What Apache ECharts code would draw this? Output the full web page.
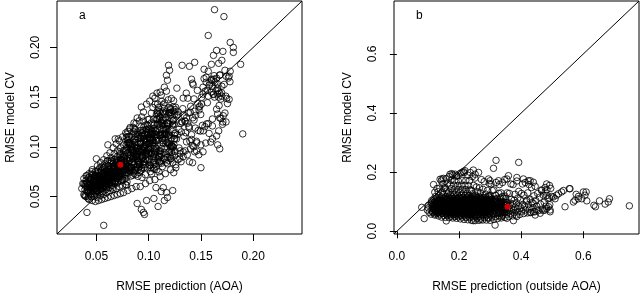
<!DOCTYPE html>
<html><head><meta charset="utf-8">
<script src="https://cdn.jsdelivr.net/npm/echarts@6/dist/echarts.min.js"></script>
<style>html,body{margin:0;padding:0;background:#fff}#c{width:640px;height:298px}</style>
</head><body><div id="c"></div>
<script>
// ---- Panel a: RMSE prediction (AOA) vs RMSE model CV ----
const aLim = [0.0123, 0.2467];
const aTicks = [0.05, 0.10, 0.15, 0.20];
const aRed = [[0.073, 0.082]];
// left, very dense part of the cloud
const aCore = [
[.036,.058],[.038,.052],[.037,.063],[.039,.057],[.038,.068],
[.040,.050],[.041,.060],[.040,.066],[.042,.054],[.041,.071],[.039,.062],[.042,.048],[.041,.064],
[.043,.047],[.044,.057],[.043,.062],[.045,.069],[.044,.052],[.043,.073],[.045,.060],[.044,.065],[.042,.056],[.045,.050],[.044,.067],[.043,.059],
[.046,.046],[.047,.055],[.046,.061],[.048,.066],[.047,.072],[.046,.058],[.048,.050],[.047,.063],[.046,.077],[.048,.060],[.047,.068],[.046,.053],[.048,.057],[.047,.064],
[.049,.045],[.050,.052],[.049,.058],[.051,.063],[.050,.070],[.049,.075],[.051,.056],[.050,.066],[.049,.061],[.051,.081],[.050,.060],[.049,.068],[.051,.049],[.050,.064],[.049,.071],[.051,.058],
[.052,.046],[.053,.054],[.052,.060],[.054,.065],[.053,.071],[.052,.077],[.054,.058],[.053,.068],[.052,.063],[.054,.084],[.053,.062],[.052,.070],[.054,.051],[.053,.066],[.052,.074],[.054,.061],[.053,.057],[.052,.067],
[.055,.047],[.056,.055],[.055,.062],[.057,.067],[.056,.073],[.055,.080],[.057,.060],[.056,.070],[.055,.065],[.057,.087],[.056,.064],[.055,.072],[.057,.052],[.056,.068],[.055,.076],[.057,.063],[.056,.059],[.055,.069],
[.058,.048],[.059,.057],[.058,.064],[.060,.069],[.059,.075],[.058,.083],[.060,.062],[.059,.072],[.058,.067],[.060,.091],[.059,.066],[.058,.074],[.060,.054],[.059,.070],[.058,.078],[.060,.065],[.059,.061],[.058,.071],
[.061,.049],[.062,.059],[.061,.066],[.063,.071],[.062,.077],[.061,.086],[.063,.064],[.062,.074],[.061,.069],[.063,.094],[.062,.068],[.061,.076],[.063,.056],[.062,.072],[.061,.081],[.063,.067],[.062,.063],[.061,.073],
[.064,.050],[.065,.061],[.064,.068],[.066,.073],[.065,.080],[.064,.089],[.066,.066],[.065,.076],[.064,.071],[.066,.099],[.065,.070],[.064,.079],[.066,.057],[.065,.074],[.064,.084],[.066,.069],[.065,.064],[.064,.075],
[.067,.051],[.068,.063],[.067,.070],[.069,.076],[.068,.083],[.067,.093],[.069,.068],[.068,.079],[.067,.073],[.069,.103],[.068,.072],[.067,.081],[.069,.058],[.068,.077],[.067,.087],[.069,.071],[.068,.066],[.067,.078],
[.070,.052],[.071,.065],[.070,.072],[.072,.078],[.071,.086],[.070,.096],[.072,.070],[.071,.082],[.070,.075],[.072,.106],[.071,.074],[.070,.084],[.072,.060],[.071,.079],[.070,.090],[.072,.073],[.071,.068],[.070,.081],
[.073,.053],[.074,.066],[.073,.074],[.075,.080],[.074,.089],[.073,.099],[.075,.072],[.074,.085],[.073,.077],[.075,.110],[.074,.076],[.073,.087],[.075,.061],[.074,.082],[.073,.093],[.075,.075],[.074,.070],[.073,.083],
[.076,.054],[.077,.068],[.076,.076],[.078,.083],[.077,.092],[.076,.102],[.078,.074],[.077,.088],[.076,.080],[.078,.114],[.077,.078],[.076,.090],[.078,.062],[.077,.085],[.076,.096],[.078,.077],[.077,.072],[.076,.086]
];
// main band of the cloud, read along x
const aBand = [
[.0380,.0626],[.0387,.0510],[.0394,.0603],[.0401,.0707],[.0408,.0552],[.0415,.0628],[.0422,.0497],[.0429,.0693],[.0436,.0608],[.0443,.0671],
[.0450,.0551],[.0457,.0750],[.0464,.0598],[.0471,.0651],[.0478,.0530],[.0485,.0706],[.0492,.0649],[.0499,.0562],[.0506,.0756],[.0513,.0630],
[.0520,.0700],[.0527,.0594],[.0534,.0790],[.0541,.0622],[.0548,.0759],[.0555,.0675],[.0562,.0548],[.0569,.0717],[.0576,.0795],[.0583,.0628],
[.0590,.0715],[.0597,.0589],[.0604,.0858],[.0611,.0684],[.0618,.0772],[.0625,.0632],[.0632,.0739],[.0639,.0859],[.0646,.0672],[.0653,.0586],
[.0660,.0833],[.0667,.0792],[.0674,.0650],[.0681,.0875],[.0688,.0755],[.0695,.0848],[.0702,.0638],[.0709,.0815],[.0716,.0745],[.0723,.0950],
[.0730,.0712],[.0737,.0864],[.0744,.0808],[.0751,.0672],[.0758,.0925],[.0765,.0801],[.0772,.0967],[.0779,.0766],[.0786,.0869],[.0793,.0648],
[.0800,.0940],[.0807,.0799],[.0814,.1025],[.0821,.0754],[.0828,.0885],[.0835,.1000],[.0842,.0847],[.0849,.0714],[.0856,.0971],[.0863,.0952],
[.0870,.0762],[.0877,.1104],[.0884,.0904],[.0891,.0823],[.0898,.1082],[.0905,.0955],[.0912,.0804],[.0919,.1047],[.0926,.0875],[.0933,.1141],
[.0940,.0908],[.0947,.0967],[.0954,.0791],[.0961,.1118],[.0968,.1020],[.0975,.0869],[.0982,.1083],[.0989,.0787],[.0996,.1128],[.1003,.0981],
[.1010,.1076],[.1017,.0842],[.1024,.1240],[.1031,.0927],[.1038,.1062],[.1045,.0901],[.1052,.1220],[.1059,.1001],[.1066,.1123],[.1073,.0804],
[.1080,.1125],[.1087,.0874],[.1094,.1069],[.1101,.1281],[.1108,.0957],[.1115,.1112],[.1122,.0834],[.1129,.1233],[.1136,.1062],[.1143,.1185],
[.1150,.0945],[.1157,.1333],[.1164,.1031],[.1171,.1131],[.1178,.0896],[.1185,.1233],[.1192,.1120],[.1199,.0953],[.1206,.1319],
[.1218,.1084],[.1230,.1214],[.1242,.1022],[.1254,.1375],[.1266,.1079],[.1278,.1324],[.1290,.1176],[.1302,.0960],[.1314,.1252],[.1326,.1384],
[.1338,.1106],[.1350,.1255],[.1362,.1050],[.1374,.1489],[.1386,.1206],[.1398,.1347],[.1410,.1123],[.1422,.1292],[.1434,.1482],[.1446,.1189],
[.1458,.1056],[.1470,.1436],[.1482,.1371],[.1494,.1158],[.1506,.1497],
[.0393,.0505],[.0402,.0634],[.0411,.0593],[.0420,.0685],[.0429,.0564],[.0438,.0635],[.0447,.0586],[.0456,.0725],[.0465,.0561],[.0474,.0668],
[.0483,.0632],[.0492,.0707],[.0501,.0556],[.0510,.0701],[.0519,.0606],[.0528,.0686],[.0537,.0744],[.0546,.0582],[.0555,.0682],[.0564,.0656],
[.0573,.0792],[.0582,.0652],[.0591,.0757],[.0600,.0624],[.0609,.0722],[.0618,.0810],[.0627,.0662],[.0636,.0722],[.0645,.0857],[.0654,.0651],
[.0663,.0783],[.0672,.0807],[.0681,.0645],[.0690,.0744],[.0699,.0861],[.0708,.0791],[.0717,.0708],[.0726,.0917],[.0735,.0759],[.0744,.0876],
[.0753,.0665],[.0762,.0845],[.0771,.0774],[.0780,.0947],[.0789,.0823],[.0798,.0939],[.0807,.0737],[.0816,.0862],[.0825,.0923],[.0834,.0800],
[.0843,.1026],[.0852,.0850],[.0861,.0926],[.0870,.0770],[.0879,.0983],[.0888,.0906],[.0897,.1038],[.0906,.0822],[.0915,.0978],[.0924,.1037],
[.0933,.0786],[.0942,.0890],[.0951,.1107],[.0960,.0987],[.0969,.0879],[.0978,.1052],[.0987,.0962],[.0996,.1181],[.1005,.0872],[.1014,.1033],
[.1023,.0935],[.1032,.1153],[.1041,.1066],[.1050,.0858],[.1059,.1031],[.1068,.1156],[.1077,.0981],[.1086,.1220],[.1095,.0959],[.1104,.1118],
[.0780,.0764],[.0783,.0685],[.0786,.1097],[.0789,.0614],[.0792,.1128],[.0795,.1068],[.0798,.0993],[.0801,.1156],[.0804,.1102],[.0807,.1034],
[.0810,.0856],[.0813,.1106],[.0816,.1039],[.0819,.0892],[.0822,.1194],[.0825,.0765],[.0828,.1018],[.0831,.0706],[.0834,.0792],[.0837,.1100],
[.0840,.0768],[.0843,.0974],[.0846,.0947],[.0849,.0883],[.0852,.1196],[.0855,.0935],[.0858,.1151],[.0861,.0731],[.0864,.1050],[.0867,.1181],
[.0870,.1126],[.0873,.1170],[.0876,.0719],[.0879,.1235],[.0882,.0963],[.0885,.0925],[.0888,.1010],[.0891,.0875],[.0894,.0985],[.0897,.0703],
[.0900,.0773],[.0903,.0844],[.0906,.0795],[.0909,.1261],[.0912,.0741],[.0915,.0831],[.0918,.1164],[.0921,.0760],[.0924,.1038],[.0927,.0941],
[.0930,.1111],[.0933,.1301],[.0936,.0692],[.0939,.1138],[.0942,.0921],[.0945,.1165],[.0948,.1258],[.0951,.0845],[.0954,.1201],[.0957,.1078],
[.0960,.1076],[.0963,.0980],[.0966,.1062],[.0969,.0719],[.0972,.0822],[.0975,.1178],[.0978,.0952],[.0981,.1144],[.0984,.1223],[.0987,.0911],
[.0990,.1210],[.0993,.0859],[.0996,.0992],[.0999,.1143],[.1002,.1038],[.1005,.1094],[.1008,.0943],[.1011,.1063],[.1014,.1119],[.1017,.0750],
[.1020,.1171],[.1023,.0936],[.1026,.1339],[.1029,.0729],[.1032,.1087],[.1035,.1129],[.1038,.1041],[.1041,.1395],[.1044,.0785],[.1047,.0844],
[.1050,.1184],[.1053,.0968],[.1056,.0773],[.1059,.0939],[.1062,.1429],[.1065,.0897],[.1068,.0954],[.1071,.1170],[.1074,.1064],[.1077,.1149],
[.1080,.1277],[.1083,.1363],[.1086,.1431],[.1089,.1238],[.1092,.1320],[.1095,.1396],[.1098,.0748],[.1101,.1356],[.1104,.0837],[.1107,.0937],
[.1110,.1342],[.1113,.0962],[.1116,.0857],[.1119,.1241],[.1122,.0930],[.1125,.1458],[.1128,.1085],[.1131,.1266],[.1134,.1350],[.1137,.1042],
[.1140,.1424],[.1143,.1267],[.1146,.0882],[.1149,.1388],[.1152,.1128],[.1155,.1442],[.1158,.1065],[.1161,.1142],[.1164,.1175],[.1167,.0926],
[.1170,.0844],[.1173,.1177],[.1176,.1047],[.1179,.1207],[.1182,.1107],[.1185,.1151],[.1188,.1473],[.1191,.0862],[.1194,.1395],[.1197,.1343],
[.1200,.1116],[.1203,.1228],[.1206,.0906],[.1209,.1374],[.1212,.0988],[.1215,.0884],[.1218,.1486],[.1221,.0947],[.1224,.1003],[.1227,.0921],
[.1230,.1260],[.1233,.1400],[.1236,.0996],[.1239,.1464],[.1242,.1358],[.1245,.1083],[.1248,.1328],
[.1250,.1080],[.1258,.1398],[.1266,.1318],[.1274,.1122],[.1282,.1353],[.1290,.0989],[.1298,.0884],[.1306,.1234],[.1314,.1150],[.1322,.1248],
[.1330,.0949],[.1338,.1317],[.1346,.1261],[.1354,.1142],[.1362,.1292],[.1370,.1236],[.1378,.1341],[.1386,.1191],[.1394,.1058],[.1402,.1408],
[.1410,.1074],[.1418,.1015],[.1426,.1624],[.1434,.1270],[.1442,.1358],[.1450,.1316],[.1458,.0958],[.1466,.1568],[.1474,.1165],[.1482,.1400],
[.1490,.1409],[.1498,.1325],[.1506,.1430],[.1514,.1216],[.1522,.1161],[.1530,.1686],[.1538,.1203],[.1546,.1038],[.1554,.1231],[.1562,.1444],
[.1570,.1233],[.1578,.1135],[.1586,.1643],[.1594,.1048],[.1602,.1681],[.1610,.1608],[.1618,.1527],[.1626,.1716],[.1634,.1650],[.1642,.1566],
[.1650,.1379],[.1658,.1634],[.1666,.1565],[.1674,.1415],[.1682,.1724],[.1690,.1286],[.1698,.1544],[.1706,.1226],[.1714,.1313],[.1722,.1628],
[.1730,.1340],[.1738,.1510],[.1746,.1487],[.1754,.1435],[.1762,.1692],[.1770,.1477],[.1778,.1655],
[.082,.118],[.086,.124],[.089,.129],[.095,.135],[.101,.146],[.106,.149],[.112,.152],[.115,.160],
[.080,.056],[.084,.058],[.088,.060],[.092,.060],[.097,.063],[.101,.066],[.106,.067],[.111,.070],[.116,.073],[.121,.077],
[.0782,.0961],[.0786,.1023],[.0790,.0740],[.0794,.0803],[.0798,.1037],[.0802,.0795],[.0806,.0779],[.0810,.1072],[.0814,.1041],[.0818,.0791],
[.0822,.0793],[.0826,.1031],[.0830,.0969],[.0834,.0785],[.0838,.1000],[.0842,.0965],[.0846,.0876],[.0850,.0891],[.0854,.0748],[.0858,.0899],
[.0862,.1072],[.0866,.0999],[.0870,.1081],[.0874,.0900],[.0878,.1042],[.0882,.0986],[.0886,.0796],[.0890,.0941],[.0894,.1126],[.0898,.1150],
[.0902,.0862],[.0906,.0846],[.0910,.1121],[.0914,.0835],[.0918,.0907],[.0922,.1087],[.0926,.0990],[.0930,.0767],[.0934,.0952],[.0938,.0891],
[.0942,.0971],[.0946,.0819],[.0950,.1057],[.0954,.0852],[.0958,.1001],[.0962,.1130],[.0966,.1217],[.0970,.0924],[.0974,.1041],[.0978,.1174],
[.0982,.0938],[.0986,.0965],[.0990,.1067],[.0994,.1274],[.0998,.0975],[.1002,.0933],[.1006,.1278],[.1010,.0814],[.1014,.0819],[.1018,.1077],
[.1022,.1141],[.1026,.1124],[.1030,.1161],[.1034,.1132],[.1038,.1015],[.1042,.1042],[.1046,.1275],[.1050,.1136],[.1054,.0926],[.1058,.1231],
[.1062,.1167],[.1066,.1059],[.1070,.0986],[.1074,.1328],[.1078,.1283],[.1082,.1089],[.1086,.1338],[.1090,.0865],[.1094,.0897],[.1098,.0908],
[.1102,.1231],[.1106,.0904],[.1110,.1302],[.1114,.1124],[.1118,.1256],[.1122,.0983],[.1126,.1129],[.1130,.1215],[.1134,.1121],[.1138,.1032],
[.1142,.1171],[.1146,.1341],[.1150,.1123],[.1154,.1223],[.1158,.1177],[.1162,.1295],[.1166,.1128],[.1170,.1356],[.1174,.1243],[.1178,.1040],
[.1182,.1241],[.1186,.1321],[.1190,.0949],[.1194,.1033],[.1198,.1339],[.1202,.1022],[.1206,.1001],[.1210,.1386],[.1214,.1345],[.1218,.1017],
[.1222,.1010],[.1226,.1309],[.1230,.1231],[.1234,.1000],[.1238,.1270],[.1242,.1226],[.1246,.1114],[.1250,.1133],[.1254,.0953],[.1258,.1143],
[.102,.079],[.105,.082],[.108,.077],[.110,.085],[.113,.080],[.116,.087],[.118,.083],[.121,.088],[.123,.084],[.125,.091],
[.128,.087],[.130,.093],[.133,.090],[.135,.096],[.137,.092],[.140,.098],[.143,.100],[.146,.104],[.131,.085],[.126,.082]
];
// sparse points around the edges
const aOut = [
[.163,.238],[.172,.231],[.157,.212],[.178,.205],[.181,.200],[.181,.195],[.188,.183],[.190,.113],
[.165,.197],[.171,.196],[.162,.192],[.170,.187],[.167,.184],[.160,.183],
[.178,.176],[.173,.177],[.174,.171],[.177,.171],[.168,.172],[.165,.169],[.160,.167],
[.155,.165],[.158,.162],[.156,.157],[.160,.155],[.152,.153],[.163,.150],[.167,.150],[.169,.148],
[.157,.176],[.155,.170],[.162,.168],[.166,.159],[.170,.161],[.168,.154],[.152,.160],[.154,.156],[.157,.151],[.162,.153],[.166,.153],[.170,.151],
[.166,.133],[.168,.129],[.171,.125],[.174,.125],[.161,.128],[.161,.121],[.167,.116],[.165,.111],[.161,.108],[.166,.102],[.168,.098],
[.150,.102],[.152,.095],[.148,.092],[.144,.095],[.139,.085],[.142,.084],[.150,.079],
[.119,.182],[.120,.177],[.117,.172],[.118,.167],[.132,.182],[.139,.181],[.144,.185],[.141,.168],[.142,.164],[.153,.178],
[.111,.155],[.117,.156],[.127,.159],[.136,.154],[.133,.149],
[.093,.140],[.098,.143],[.104,.151],[.108,.154],
[.068,.108],[.071,.108],[.061,.102],[.050,.088],
[.041,.034],[.057,.021],
[.089,.043],[.093,.037],[.095,.034],[.096,.032],[.098,.046],[.105,.048],[.109,.040],[.115,.046],[.118,.049],[.112,.055],[.117,.054],[.123,.056],[.107,.059],[.114,.059],
[.124,.074],[.126,.079]
];

// ---- Panel b: RMSE prediction (outside AOA) vs RMSE model CV ----
const bLim = [-0.0092, 0.779];
const bTicks = [0, 0.2, 0.4, 0.6];
const bRed = [[0.356, 0.083]];
const bCore = [
[.098,.072],[.102,.088],[.104,.064],[.101,.079],
[.110,.058],[.113,.071],[.115,.086],[.111,.097],[.114,.065],[.112,.104],[.116,.078],[.110,.091],
[.122,.055],[.125,.062],[.127,.070],[.123,.077],[.126,.084],[.124,.091],[.121,.099],[.128,.106],[.125,.118],[.122,.132],[.127,.081],[.123,.067],[.126,.095],[.129,.145],
[.134,.052],[.137,.058],[.139,.065],[.135,.071],[.138,.076],[.136,.082],[.133,.088],[.140,.093],[.137,.099],[.134,.105],[.139,.112],[.136,.121],[.133,.134],[.138,.146],[.135,.079],[.140,.068],[.137,.087],[.134,.062],
[.144,.048],[.150,.054],[.147,.060],[.153,.065],[.145,.069],[.149,.073],[.152,.077],[.146,.080],[.151,.083],[.143,.086],[.148,.089],[.150,.092],[.144,.096],[.151,.100],[.147,.105],[.153,.110],[.145,.116],[.149,.124],[.146,.133],[.152,.145],[.148,.160],[.143,.170],
[.156,.047],[.162,.053],[.159,.058],[.165,.062],[.157,.066],[.161,.070],[.164,.073],[.158,.076],[.163,.079],[.155,.082],[.160,.085],[.162,.088],[.156,.091],[.163,.094],[.159,.098],[.165,.102],[.157,.107],[.161,.112],[.158,.118],[.164,.126],[.160,.136],[.155,.148],[.163,.162],[.159,.178],
[.168,.046],[.174,.051],[.171,.056],[.177,.060],[.169,.064],[.173,.068],[.176,.071],[.170,.074],[.175,.077],[.167,.080],[.172,.083],[.174,.086],[.168,.089],[.175,.092],[.171,.095],[.177,.098],[.169,.102],[.173,.106],[.170,.111],[.176,.117],[.172,.124],[.167,.133],[.175,.144],[.171,.157],[.174,.172],[.168,.185],
[.180,.045],[.186,.050],[.183,.055],[.189,.059],[.181,.063],[.185,.067],[.188,.070],[.182,.073],[.187,.076],[.179,.079],[.184,.082],[.186,.085],[.180,.088],[.187,.091],[.183,.094],[.189,.097],[.181,.101],[.185,.105],[.182,.110],[.188,.116],[.184,.123],[.179,.132],[.187,.143],[.183,.156],[.186,.171],[.180,.190],
[.192,.044],[.198,.049],[.195,.054],[.201,.058],[.193,.062],[.197,.066],[.200,.069],[.194,.072],[.199,.075],[.191,.078],[.196,.081],[.198,.084],[.192,.087],[.199,.090],[.195,.093],[.201,.096],[.193,.100],[.197,.104],[.194,.109],[.200,.115],[.196,.122],[.191,.131],[.199,.142],[.195,.155],[.198,.170],[.192,.186],
[.204,.042],[.210,.048],[.207,.053],[.213,.057],[.205,.061],[.209,.065],[.212,.068],[.206,.071],[.211,.074],[.203,.077],[.208,.080],[.210,.083],[.204,.086],[.211,.089],[.207,.092],[.213,.096],[.205,.100],[.209,.104],[.206,.109],[.212,.115],[.208,.122],[.203,.131],[.211,.142],[.207,.156],[.210,.172],[.204,.196],
[.216,.040],[.222,.047],[.219,.052],[.225,.056],[.217,.060],[.221,.064],[.224,.067],[.218,.070],[.223,.073],[.215,.076],[.220,.079],[.222,.082],[.216,.085],[.223,.088],[.219,.091],[.225,.095],[.217,.099],[.221,.103],[.218,.108],[.224,.114],[.220,.121],[.215,.130],[.223,.141],[.219,.155],[.222,.172],[.216,.198],
[.228,.039],[.234,.046],[.231,.051],[.237,.055],[.229,.059],[.233,.063],[.236,.066],[.230,.069],[.235,.072],[.227,.075],[.232,.078],[.234,.081],[.228,.084],[.235,.087],[.231,.090],[.237,.094],[.229,.098],[.233,.102],[.230,.107],[.236,.113],[.232,.120],[.227,.129],[.235,.140],[.231,.154],[.234,.172],[.228,.190],
[.240,.037],[.246,.045],[.243,.050],[.249,.055],[.241,.059],[.245,.063],[.248,.067],[.242,.070],[.247,.073],[.239,.076],[.244,.079],[.246,.082],[.240,.085],[.247,.088],[.243,.092],[.249,.096],[.241,.100],[.245,.105],[.242,.111],[.248,.118],[.244,.127],[.239,.139],[.247,.155],[.243,.185],
[.252,.036],[.258,.044],[.255,.050],[.261,.055],[.253,.059],[.257,.063],[.260,.067],[.254,.071],[.259,.074],[.251,.077],[.256,.080],[.258,.083],[.252,.087],[.259,.091],[.255,.095],[.261,.100],[.253,.106],[.257,.113],[.254,.122],[.260,.134],[.256,.150],[.251,.180],
[.264,.037],[.270,.045],[.267,.051],[.273,.056],[.265,.061],[.269,.065],[.272,.069],[.266,.073],[.271,.076],[.263,.079],[.268,.083],[.270,.087],[.264,.091],[.271,.096],[.267,.102],[.273,.109],[.265,.118],[.269,.130],[.266,.147],[.272,.175],
[.276,.038],[.282,.046],[.279,.052],[.285,.058],[.277,.063],[.281,.067],[.284,.071],[.278,.075],[.283,.079],[.275,.083],[.280,.087],[.282,.092],[.276,.098],[.283,.105],[.279,.114],[.285,.126],[.277,.142],[.281,.168],
[.288,.038],[.294,.047],[.291,.054],[.297,.060],[.289,.065],[.293,.070],[.296,.074],[.290,.078],[.295,.082],[.287,.087],[.292,.093],[.294,.100],[.288,.109],[.295,.121],[.291,.138],[.297,.162],
[.300,.037],[.306,.048],[.303,.055],[.309,.061],[.301,.067],[.305,.072],[.308,.077],[.302,.082],[.307,.087],[.299,.093],[.304,.100],[.306,.109],[.300,.121],[.307,.138],[.303,.160],
[.312,.040],[.318,.050],[.315,.058],[.321,.064],[.313,.070],[.317,.076],[.320,.081],[.314,.087],[.319,.093],[.311,.100],[.316,.109],[.318,.121],[.312,.140],[.319,.165],
[.324,.043],[.330,.052],[.327,.060],[.333,.067],[.325,.073],[.329,.079],[.332,.085],[.326,.092],[.331,.100],[.323,.111],[.328,.128],[.330,.158],
[.336,.045],[.342,.055],[.339,.063],[.345,.070],[.337,.076],[.341,.083],[.344,.090],[.338,.099],[.343,.111],[.335,.130],[.340,.165],
[.348,.047],[.354,.058],[.351,.066],[.357,.073],[.349,.080],[.353,.088],[.356,.097],[.350,.110],[.355,.130],[.347,.175],
[.360,.050],[.366,.060],[.363,.068],[.369,.076],[.361,.085],[.365,.095],[.368,.108],[.362,.128],[.367,.160],
[.372,.052],[.378,.063],[.375,.072],[.381,.081],[.373,.092],[.377,.105],[.380,.125],[.374,.158],
[.384,.055],[.390,.066],[.387,.075],[.393,.085],[.385,.097],[.389,.112],[.392,.135],[.386,.170],
[.396,.057],[.402,.068],[.399,.079],[.405,.091],[.397,.106],[.401,.128],[.404,.160],
[.408,.060],[.414,.072],[.411,.085],[.417,.100],[.409,.122],[.413,.165],
[.420,.062],[.426,.075],[.423,.090],[.429,.108],[.421,.130],[.425,.158],
[.432,.064],[.438,.080],[.435,.097],[.441,.120],[.433,.148],
[.444,.066],[.450,.085],[.447,.104],[.453,.128],[.445,.152],
[.456,.070],[.462,.092],[.459,.115],[.465,.140],
[.468,.075],[.474,.098],[.471,.122],[.477,.148],
[.480,.085],[.486,.110],[.483,.140],
[.492,.090],[.498,.118],[.495,.145]
];
// dense band of panel b, read along x
const bBand = [
[.1150,.0937],[.1162,.0648],[.1174,.0864],[.1186,.1096],[.1198,.0730],[.1210,.0898],[.1222,.0584],[.1234,.1024],[.1246,.0828],[.1258,.0959],
[.1270,.0690],[.1282,.1110],[.1294,.0777],[.1306,.0881],[.1318,.0623],[.1330,.0982],[.1342,.0856],[.1354,.0671],[.1366,.1060],[.1378,.0797],
[.1390,.0928],[.1402,.0713],[.1414,.1085],[.1426,.0758],[.1438,.1012],[.1450,.0844],[.1462,.0604],[.1474,.0909],[.1486,.1043],[.1498,.0735],
[.1510,.0886],[.1522,.0657],[.1534,.1122],[.1546,.0808],[.1558,.0951],[.1570,.0702],[.1582,.0875],[.1594,.1071],[.1606,.0746],[.1618,.0595],
[.1630,.0996],[.1642,.0917],[.1654,.0679],[.1666,.1035],[.1678,.0833],[.1690,.0970],[.1702,.0632],[.1714,.0900],[.1726,.0786],[.1738,.1094],
[.1750,.0721],[.1762,.0942],[.1774,.0850],[.1786,.0643],[.1798,.1007],[.1810,.0816],[.1822,.1049],[.1834,.0752],[.1846,.0892],[.1858,.0573],
[.1870,.0976],[.1882,.0772],[.1894,.1080],[.1906,.0696],[.1918,.0870],[.1930,.1021],[.1942,.0802],[.1954,.0618],[.1966,.0956],[.1978,.0923],
[.1990,.0682],[.2002,.1156],[.2014,.0868],[.2026,.0748],[.2038,.1099],[.2050,.0916],[.2062,.0703],[.2074,.1027],[.2086,.0787],[.2098,.1135],
[.2110,.0817],[.2122,.0889],[.2134,.0652],[.2146,.1072],[.2158,.0937],[.2170,.0736],[.2182,.1003],[.2194,.0622],[.2206,.1045],[.2218,.0853],
[.2230,.0967],[.2242,.0670],[.2254,.1162],[.2266,.0766],[.2278,.0928],[.2290,.0724],[.2302,.1111],[.2314,.0838],[.2326,.0982],[.2338,.0589],
[.2350,.0742],[.2362,.0658],[.2374,.1093],[.2386,.0583],[.2398,.1126],[.2410,.1063],[.2422,.0994],[.2434,.1156],[.2446,.1099],[.2458,.1027],
[.2470,.0817],[.2482,.1072],[.2494,.1003],[.2506,.0853],[.2518,.1162],[.2530,.0724],[.2542,.0982],[.2554,.0664],[.2566,.0751],[.2578,.1066],
[.2590,.0709],[.2602,.0913],[.2614,.0886],[.2626,.0823],[.2638,.1132],[.2650,.0874],[.2662,.1087],[.2674,.0673],[.2686,.0988],[.2698,.1117],
[.2710,.1036],[.2722,.1078],[.2734,.0646],[.2746,.1141],[.2758,.0880],[.2770,.0844],[.2782,.0925],[.2794,.0796],[.2806,.0901],[.2818,.0631],
[.2830,.0682],[.2842,.0748],[.2854,.0703],[.2866,.1135],[.2878,.0652],[.2890,.0736],[.2902,.1045],[.2914,.0670],[.2926,.0928],[.2938,.0838],
[.2950,.0993],[.2962,.1164],[.2974,.0615],[.2986,.1017],[.2998,.0822],[.3010,.1041],[.3022,.1125],[.3034,.0753],[.3046,.1074],[.3058,.0963],
[.3070,.0939],[.3082,.0855],[.3094,.0927],[.3106,.0627],[.3118,.0717],[.3130,.1029],[.3142,.0831],[.3154,.0999],[.3166,.1068],[.3178,.0795],
[.3190,.1035],[.3202,.0735],[.3214,.0849],[.3226,.0978],[.3238,.0888],[.3250,.0936],[.3262,.0807],[.3274,.0909],[.3286,.0957],[.3298,.0642],
[.3310,.0987],[.3322,.0786],[.3334,.1131],[.3346,.0609],[.3358,.0915],[.3370,.0951],[.3382,.0876],[.3394,.1179],[.3406,.0657],[.3418,.0708],
[.3430,.0984],[.3442,.0801],[.3454,.0636],[.3466,.0777],[.3478,.1191],[.3490,.0741],[.3502,.0789],[.3514,.0972],[.3526,.0882],[.3538,.0954],
[.1250,.0676],[.1265,.0938],[.1280,.0842],[.1295,.1024],[.1310,.0766],[.1325,.0902],[.1340,.0794],[.1355,.1058],[.1370,.0730],[.1385,.0928],
[.1400,.0852],[.1415,.0980],[.1430,.0698],[.1445,.0952],[.1460,.0774],[.1475,.0908],[.1490,.0998],[.1505,.0718],[.1520,.0876],[.1535,.0828],
[.1550,.1040],[.1565,.0808],[.1580,.0968],[.1595,.0752],[.1610,.0894],[.1625,.1016],[.1640,.0782],[.1655,.0862],[.1670,.1054],[.1685,.0738],
[.1700,.0922],[.1715,.0946],[.1730,.0704],[.1745,.0836],[.1760,.0992],[.1775,.0884],[.1790,.0760],[.1805,.1034],[.1820,.0814],[.1835,.0960],
[.1850,.0672],[.1865,.0900],[.1880,.0800],[.1895,.1012],[.1910,.0846],[.1925,.0982],[.1940,.0722],[.1955,.0870],[.1970,.0936],[.1985,.0778],
[.2000,.1044],[.2015,.0824],[.2030,.0906],[.2045,.0714],[.2060,.0956],[.2075,.0858],[.2090,.1002],[.2105,.0748],[.2120,.0918],[.2135,.0974],
[.2150,.0688],[.2165,.0796],[.2180,.1028],[.2195,.0888],[.2210,.0764],[.2225,.0942],[.2240,.0840],[.2255,.1064],[.2270,.0732],[.2285,.0896],
[.2300,.0788],[.2315,.1008],[.2330,.0912],[.2345,.0694],[.2360,.0866],[.2375,.0986],[.2390,.0804],[.2405,.1038],[.2420,.0772],[.2435,.0926],
[.2450,.0832],[.2465,.1020],[.2480,.0742],[.2495,.0874],[.2510,.0964],[.2525,.0708],[.2540,.0892],[.2555,.0818],[.2570,.1056],[.2585,.0756],
[.2600,.0948],[.2615,.0854],[.2630,.0994],[.2645,.0680],[.2660,.0904],[.2675,.0784],[.2690,.1046],[.2705,.0880],[.2720,.0726],[.2735,.0932],
[.2750,.0778],[.2765,.0722],[.2780,.1012],[.2795,.0672],[.2810,.1034],[.2825,.0992],[.2840,.0946],[.2855,.1054],[.2870,.1016],[.2885,.0968],
[.2900,.0828],[.2915,.0998],[.2930,.0952],[.2945,.0852],[.2960,.1058],[.2975,.0766],[.2990,.0938],[.3005,.0726],[.3020,.0784],[.3035,.0994]
];
const bOut = [
[.319,.240],[.311,.213],[.392,.233],[.080,.081],[.088,.043],[.159,.035],[.316,.021],[.246,.036],
[.748,.086],[.670,.092],[.652,.103],[.684,.110],[.680,.099],
[.634,.088],[.639,.083],[.611,.103],[.609,.133],[.584,.118],[.577,.125],[.584,.110],
[.541,.083],[.555,.144],[.530,.133],[.514,.122],[.509,.110],
[.482,.160],[.491,.155],[.477,.133],[.466,.138],
[.488,.083],[.477,.072],[.461,.061],[.493,.072],
[.418,.105],[.439,.094],[.445,.055],[.429,.063],[.450,.072],
[.375,.036],[.354,.044],[.338,.050],
[.557,.144],[.600,.133],[.605,.122],[.595,.110],[.573,.105],[.568,.099],[.536,.138],[.520,.127],[.503,.116],[.491,.113],[.482,.121],[.482,.077],[.493,.066],[.471,.070],[.439,.066],
[.118,.158],[.145,.177],[.171,.193],[.188,.193],[.214,.202],[.246,.207],[.263,.199],[.295,.177],[.354,.177],[.386,.182],[.407,.177],[.423,.171],[.439,.166],
[.252,.193],[.236,.199],[.219,.205],[.209,.199],[.193,.188],[.177,.195],[.150,.179],[.139,.176],[.300,.171],[.327,.171],[.359,.188],[.429,.171],
[.295,.044],[.386,.050],[.270,.040]
];

const FONT = '"Liberation Sans", Arial, Helvetica, sans-serif';
const txt = {fontFamily: FONT, fontSize: 12, color: '#000'};

function mkAxis(gi, lim, ticks, dec, name, isY) {
  return {
    type: 'value', gridIndex: gi, min: lim[0], max: lim[1],
    splitLine: {show: false}, axisLine: {show: false},
    axisTick: {show: true, customValues: ticks, length: 7, lineStyle: {color: '#000', width: 1}},
    axisLabel: Object.assign({customValues: ticks, formatter: v => Number(v).toFixed(dec),
      margin: isY ? 15 : 17, rotate: isY ? 90 : 0}, txt),
    name: name, nameLocation: 'middle', nameGap: isY ? 40 : 47,
    nameTextStyle: Object.assign({}, txt)
  };
}

const openCircle = {color: 'rgba(0,0,0,0)', borderColor: '#000', borderWidth: 1};
const SYM = 6.5;

const chart = echarts.init(document.getElementById('c'), null, {renderer: 'canvas'});
chart.setOption({
  animation: false,
  backgroundColor: '#fff',
  grid: [
    {left: 57, top: 1, width: 245, height: 236, show: true, borderColor: '#000', borderWidth: 1, backgroundColor: 'rgba(0,0,0,0)'},
    {left: 394, top: 1, width: 245, height: 236, show: true, borderColor: '#000', borderWidth: 1, backgroundColor: 'rgba(0,0,0,0)'}
  ],
  title: [
    {text: 'a', left: 79, top: 10, padding: 0, textStyle: Object.assign({fontWeight: 'normal'}, txt)},
    {text: 'b', left: 416, top: 10, padding: 0, textStyle: Object.assign({fontWeight: 'normal'}, txt)}
  ],
  xAxis: [
    mkAxis(0, aLim, aTicks, 2, 'RMSE prediction (AOA)', false),
    mkAxis(1, bLim, bTicks, 1, 'RMSE prediction (outside AOA)', false)
  ],
  yAxis: [
    mkAxis(0, aLim, aTicks, 2, 'RMSE model CV', true),
    mkAxis(1, bLim, bTicks, 1, 'RMSE model CV', true)
  ],
  series: [
    {type: 'line', xAxisIndex: 0, yAxisIndex: 0, data: [[aLim[0], aLim[0]], [aLim[1], aLim[1]]], symbol: 'none', lineStyle: {color: '#000', width: 1}, silent: true},
    {type: 'scatter', xAxisIndex: 0, yAxisIndex: 0, data: aCore.concat(aBand, aOut), symbol: 'circle', symbolSize: SYM, itemStyle: openCircle, silent: true},
    {type: 'scatter', xAxisIndex: 0, yAxisIndex: 0, data: aRed, symbol: 'circle', symbolSize: 6, itemStyle: {color: '#ff0000'}, silent: true},
    {type: 'line', xAxisIndex: 1, yAxisIndex: 1, data: [[bLim[0], bLim[0]], [bLim[1], bLim[1]]], symbol: 'none', lineStyle: {color: '#000', width: 1}, silent: true},
    {type: 'scatter', xAxisIndex: 1, yAxisIndex: 1, data: bCore.concat(bBand, bOut), symbol: 'circle', symbolSize: SYM, itemStyle: openCircle, silent: true},
    {type: 'scatter', xAxisIndex: 1, yAxisIndex: 1, data: bRed, symbol: 'circle', symbolSize: 6, itemStyle: {color: '#ff0000'}, silent: true}
  ]
});
</script>
</body></html>
